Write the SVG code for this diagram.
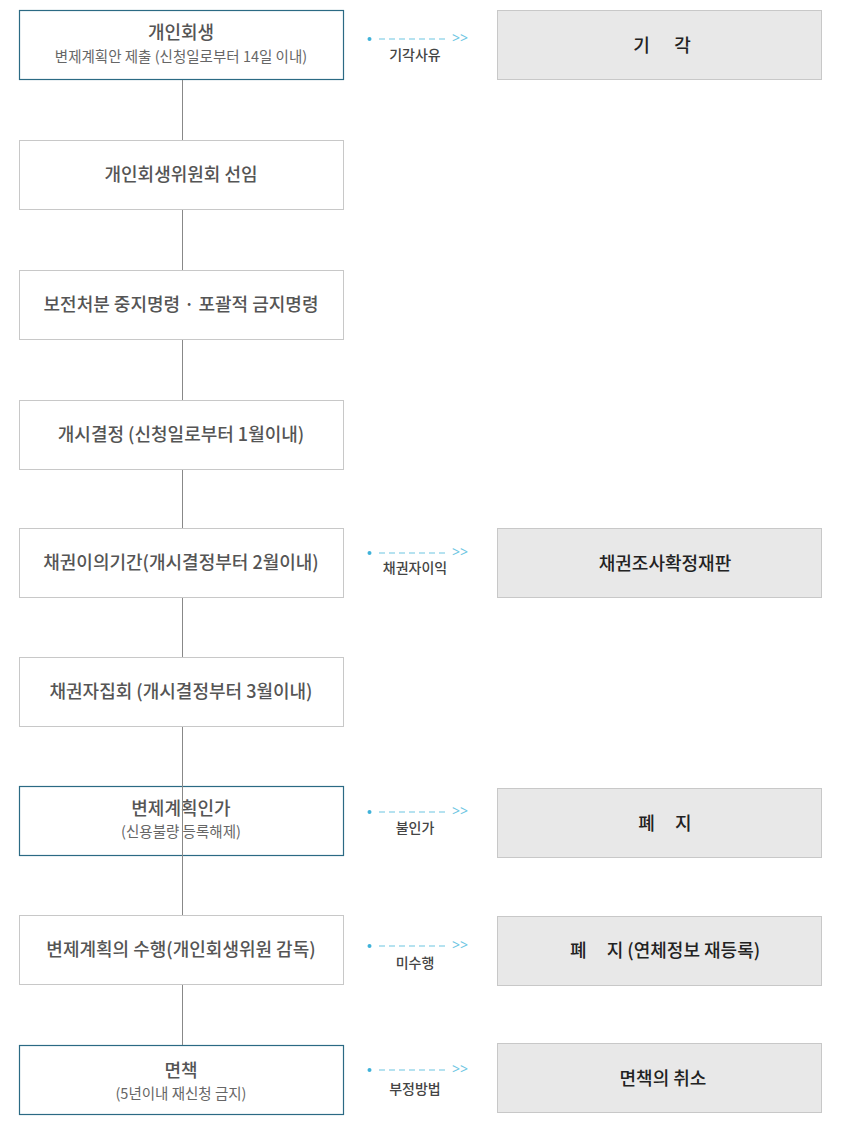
<svg xmlns="http://www.w3.org/2000/svg" width="842" height="1133" viewBox="0 0 842 1133">
<style>
.box{fill:#fff;stroke:#c8c8c8;stroke-width:1}
.hl{fill:#fff;stroke:#2b6a84;stroke-width:1.2}
.res{fill:#e8e8e8;stroke:#c8c8c8;stroke-width:1}
.t{font-family:"Noto Sans CJK KR","Noto Sans",sans-serif;font-size:18px;font-weight:500;fill:#555;text-anchor:middle;dominant-baseline:central}
.s{font-family:"Noto Sans CJK KR","Noto Sans",sans-serif;font-size:14.5px;font-weight:400;fill:#666;text-anchor:middle;dominant-baseline:central}
.r{font-family:"Noto Sans CJK KR","Noto Sans",sans-serif;font-size:18px;font-weight:500;fill:#222;text-anchor:middle;dominant-baseline:central}
.l{font-family:"Noto Sans CJK KR","Noto Sans",sans-serif;font-size:14px;font-weight:500;fill:#444;text-anchor:middle;dominant-baseline:central}
.v{stroke:#888;stroke-width:1}
.d{stroke:#6cc6e2;stroke-width:1.2;stroke-dasharray:6 4}
.dot{fill:#3fb2d9}
.g{font-family:"Noto Sans",sans-serif;font-size:14px;fill:#6cc6e2;dominant-baseline:central}
</style>
<g id="n1"><rect class="hl" x="19.5" y="10.5" width="324" height="69"/><text class="t" x="181" y="31">개인회생</text><text class="s" x="181" y="55">변제계획안 제출 (신청일로부터 14일 이내)</text></g>
<g id="n2"><rect class="box" x="19.5" y="140.5" width="324" height="69"/><text class="t" x="181" y="173">개인회생위원회 선임</text></g>
<g id="n3"><rect class="box" x="19.5" y="270.5" width="324" height="69"/><text class="t" x="181" y="303">보전처분 중지명령 · 포괄적 금지명령</text></g>
<g id="n4"><rect class="box" x="19.5" y="400.5" width="324" height="69"/><text class="t" x="181" y="433">개시결정 (신청일로부터 1월이내)</text></g>
<g id="n5"><rect class="box" x="19.5" y="528.5" width="324" height="69"/><text class="t" x="181" y="561">채권이의기간(개시결정부터 2월이내)</text></g>
<g id="n6"><rect class="box" x="19.5" y="657.5" width="324" height="69"/><text class="t" x="181" y="690">채권자집회 (개시결정부터 3월이내)</text></g>
<g id="n7"><rect class="hl" x="19.5" y="786.5" width="324" height="69"/><text class="t" x="181" y="807">변제계획인가</text><text class="s" x="181" y="830">(신용불량 등록해제)</text></g>
<g id="n8"><rect class="box" x="19.5" y="915.5" width="324" height="69"/><text class="t" x="181" y="948">변제계획의 수행(개인회생위원 감독)</text></g>
<g id="n9"><rect class="hl" x="19.5" y="1045.5" width="324" height="69"/><text class="t" x="181" y="1069">면책</text><text class="s" x="181" y="1092">(5년이내 재신청 금지)</text></g>
<g id="r1"><rect class="res" x="497.5" y="10.5" width="324" height="69"/><text class="r" x="662" y="44" xml:space="preserve">기      각</text></g>
<g id="r5"><rect class="res" x="497.5" y="528.5" width="324" height="69"/><text class="r" x="665" y="562">채권조사확정재판</text></g>
<g id="r7"><rect class="res" x="497.5" y="788.5" width="324" height="69"/><text class="r" x="665" y="822" xml:space="preserve">폐     지</text></g>
<g id="r8"><rect class="res" x="497.5" y="916.5" width="324" height="69"/><text class="r" x="665" y="949" xml:space="preserve">폐     지 (연체정보 재등록)</text></g>
<g id="r9"><rect class="res" x="497.5" y="1043.5" width="324" height="69"/><text class="r" x="663" y="1077">면책의 취소</text></g>
<g id="connectors">
<line class="v" x1="182.5" y1="80" x2="182.5" y2="140"/>
<line class="v" x1="182.5" y1="210" x2="182.5" y2="270"/>
<line class="v" x1="182.5" y1="340" x2="182.5" y2="400"/>
<line class="v" x1="182.5" y1="470" x2="182.5" y2="528"/>
<line class="v" x1="182.5" y1="598" x2="182.5" y2="657"/>
<line class="v" x1="182.5" y1="727" x2="182.5" y2="915"/>
<line class="v" x1="182.5" y1="985" x2="182.5" y2="1045"/>
<g id="e1"><circle class="dot" cx="369.5" cy="39" r="2"/><line class="d" x1="379" y1="39" x2="449" y2="39"/><text class="g" x="452" y="37.5">&gt;&gt;</text><text class="l" x="415" y="54">기각사유</text></g>
<g id="e5"><circle class="dot" cx="369.5" cy="553" r="2"/><line class="d" x1="379" y1="553" x2="449" y2="553"/><text class="g" x="452" y="551.5">&gt;&gt;</text><text class="l" x="415" y="567">채권자이익</text></g>
<g id="e7"><circle class="dot" cx="369.5" cy="812" r="2"/><line class="d" x1="379" y1="812" x2="449" y2="812"/><text class="g" x="452" y="810.5">&gt;&gt;</text><text class="l" x="415" y="827">불인가</text></g>
<g id="e8"><circle class="dot" cx="369.5" cy="946" r="2"/><line class="d" x1="379" y1="946" x2="449" y2="946"/><text class="g" x="452" y="944.5">&gt;&gt;</text><text class="l" x="415" y="962">미수행</text></g>
<g id="e9"><circle class="dot" cx="369.5" cy="1070" r="2"/><line class="d" x1="379" y1="1070" x2="449" y2="1070"/><text class="g" x="452" y="1068.5">&gt;&gt;</text><text class="l" x="415" y="1088">부정방법</text></g>
</g>
</svg>
